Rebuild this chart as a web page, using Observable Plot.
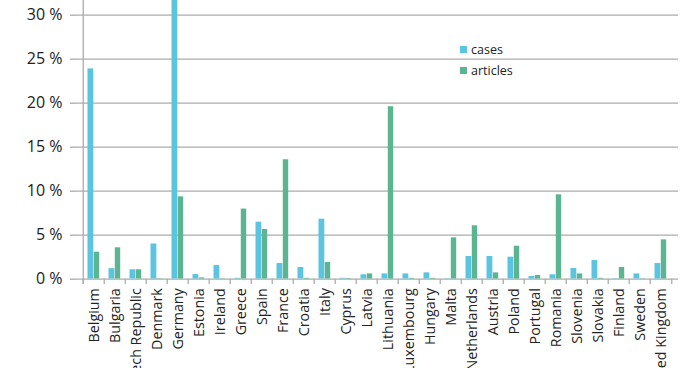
<!DOCTYPE html>
<html>
<head>
<meta charset="utf-8">
<script src="https://cdn.jsdelivr.net/npm/d3@7"></script>
<script src="https://cdn.jsdelivr.net/npm/@observablehq/plot@0.6"></script>
<style>
  html, body { margin: 0; padding: 0; background: #fff; overflow: hidden; }
  #wrap { position: relative; width: 700px; height: 368px; overflow: hidden; }
  #legend { position: absolute; left: 460px; top: 39px; font: 12.5px "Open Sans", sans-serif; color: #222; }
  #legend div { display: flex; align-items: center; height: 21px; }
  #legend span.sw { display: inline-block; width: 7px; height: 7px; margin-right: 4px; }
</style>
</head>
<body>
<div id="wrap"></div>
<script>
const countries = ["Belgium","Bulgaria","Czech Republic","Denmark","Germany","Estonia","Ireland","Greece","Spain","France","Croatia","Italy","Cyprus","Latvia","Lithuania","Luxembourg","Hungary","Malta","Netherlands","Austria","Poland","Portugal","Romania","Slovenia","Slovakia","Finland","Sweden","United Kingdom"];
const cases = [23.9,1.2,1.07,4.0,34,0.53,1.55,0.1,6.48,1.78,1.33,6.82,0.1,0.5,0.6,0.6,0.72,0.05,2.58,2.58,2.5,0.3,0.5,1.22,2.12,0.05,0.6,1.78];
const articles = [3.07,3.57,1.07,0.05,9.36,0.15,0.05,7.97,5.65,13.57,0.1,1.9,0.08,0.6,19.6,0.1,0.1,4.7,6.07,0.72,3.75,0.42,9.59,0.6,0.1,1.33,0.05,4.47];
const yTicks = [0,5,10,15,20,25,30];
const seriesNames = ["cases","articles"];
const colors = ["#5bc4e1","#5cb592"];

const W = 700, H = 368, mL = 75, mR = 22, mT = 0, mB = 89.3;
const bw = (W - mL - mR) / countries.length;
const gray = "#ababab";

const casesData = countries.map((c,i) => ({country: c, value: cases[i]}));
const articlesData = countries.map((c,i) => ({country: c, value: articles[i]}));

const chart = Plot.plot({
  width: W, height: H,
  marginLeft: mL, marginRight: mR, marginTop: mT, marginBottom: mB,
  style: {fontFamily: "'Open Sans', sans-serif", color: "#222", background: "#fff", overflow: "visible"},
  x: {domain: countries, padding: 0, label: null},
  y: {domain: [0, 31.67], label: null},
  marks: [
    Plot.ruleY(yTicks, {stroke: gray, strokeWidth: 1.3}),
    Plot.axisY({ticks: yTicks, tickSize: 5, tickPadding: 8, stroke: gray, strokeWidth: 1.3,
      tickFormat: d => d + " %", fontSize: 16, fill: "#222", label: null}),
    Plot.barY(casesData, {x: "country", y: "value", fill: colors[0], insetLeft: 4.5, insetRight: 10.7, clip: true}),
    Plot.barY(articlesData, {x: "country", y: "value", fill: colors[1], insetLeft: 10.8, insetRight: 4.8, clip: true}),
    Plot.ruleX([countries[0]], {x: d => d, dx: -bw/2, stroke: gray, strokeWidth: 1.3, y1: -0.6, y2: 31.67}),
    Plot.ruleX(countries, {x: d => d, dx: -bw/2, y1: 0, y2: -0.6, stroke: gray, strokeWidth: 1.3}),
    Plot.ruleX([countries[countries.length-1]], {x: d => d, dx: bw/2, y1: 0, y2: -0.6, stroke: gray, strokeWidth: 1.3}),
    Plot.axisX({tickSize: 0, tickPadding: 9, tickRotate: -90, fontSize: 14.3, fill: "#222", label: null})
  ]
});
document.getElementById("wrap").appendChild(chart);

const leg = document.createElement("div");
leg.id = "legend";
seriesNames.forEach((s,i) => {
  const row = document.createElement("div");
  const sw = document.createElement("span");
  sw.className = "sw"; sw.style.background = colors[i];
  row.appendChild(sw);
  row.appendChild(document.createTextNode(s));
  leg.appendChild(row);
});
document.getElementById("wrap").appendChild(leg);
</script>
</body>
</html>
